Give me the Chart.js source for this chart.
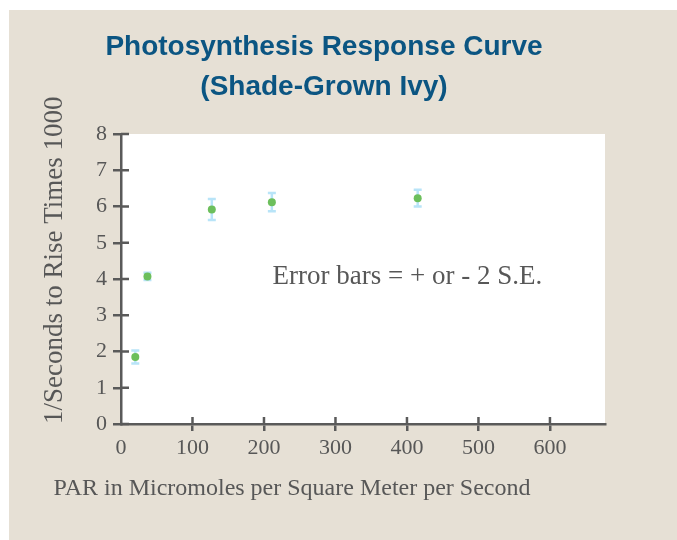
<!DOCTYPE html>
<html>
<head>
<meta charset="utf-8">
<title>Photosynthesis Response Curve (Shade-Grown Ivy)</title>
<script src="https://cdn.jsdelivr.net/npm/chart.js@4/dist/chart.umd.min.js"></script>
<style>
  html, body { margin: 0; padding: 0; background: #ffffff; }
  #wrap { position: absolute; left: 9px; top: 10px; width: 668px; height: 530px; }
  canvas { display: block; }
</style>
</head>
<body>
<div id="wrap"><canvas id="chart" width="668" height="530"></canvas></div>
<script>
// Light level (PAR, micromoles per square metre per second)
const parValues = [20, 37, 127, 211, 415];
// Mean rate: 1 / seconds to rise, times 1000
const riseRate = [1.85, 4.07, 5.92, 6.12, 6.23];
// Half-length of each error bar (2 standard errors)
const twoSE = [0.18, 0.10, 0.29, 0.25, 0.23];

// Axis ticks
const xTickValues = [0, 100, 200, 300, 400, 500, 600];
const yTickValues = [0, 1, 2, 3, 4, 5, 6, 7, 8];

// Text
const titleLines = ['Photosynthesis Response Curve', '(Shade-Grown Ivy)'];
const xAxisTitle = 'PAR in Micromoles per Square Meter per Second';
const yAxisTitle = '1/Seconds to Rise Times 1000';
const noteText = 'Error bars = + or - 2 S.E.';

// Colours and fonts
const panelBeige = '#e6e0d5';
const plotWhite = '#ffffff';
const titleBlue = '#0b5582';
const textGray = '#575757';
const axisGray = '#5a5a5a';
const pointGreen = '#6cbf5c';
const errorBlue = '#b8e4f8';
const serif = "'Liberation Serif', 'Times New Roman', serif";
const sans = "'Liberation Sans', Arial, sans-serif";

// Panel background and white plotting area
const backdrop = {
  id: 'backdrop',
  beforeDraw(chart) {
    const { ctx, chartArea: a } = chart;
    ctx.save();
    ctx.fillStyle = panelBeige;
    ctx.fillRect(0, 0, chart.width, chart.height);
    ctx.fillStyle = plotWhite;
    ctx.fillRect(a.left, a.top, a.right - a.left, a.bottom - a.top);
    ctx.restore();
  }
};

// Vertical error bars with short caps, drawn beneath the points
const errorBars = {
  id: 'errorBars',
  beforeDatasetsDraw(chart) {
    const { ctx, scales: { x, y } } = chart;
    ctx.save();
    ctx.strokeStyle = errorBlue;
    ctx.lineWidth = 2.5;
    parValues.forEach((v, i) => {
      const px = x.getPixelForValue(v);
      const top = y.getPixelForValue(riseRate[i] + twoSE[i]);
      const bot = y.getPixelForValue(riseRate[i] - twoSE[i]);
      ctx.beginPath();
      ctx.moveTo(px, top); ctx.lineTo(px, bot);
      ctx.moveTo(px - 4, top); ctx.lineTo(px + 4, top);
      ctx.moveTo(px - 4, bot); ctx.lineTo(px + 4, bot);
      ctx.stroke();
    });
    ctx.restore();
  }
};

// Tick marks cross the axes: add the inner half of each tick
const innerTicks = {
  id: 'innerTicks',
  afterDraw(chart) {
    const { ctx, chartArea: a, scales: { x, y } } = chart;
    ctx.save();
    ctx.strokeStyle = axisGray;
    ctx.lineWidth = 2.5;
    ctx.beginPath();
    y.ticks.forEach(t => {
      const py = y.getPixelForValue(t.value);
      ctx.moveTo(a.left, py); ctx.lineTo(a.left + 8, py);
    });
    x.ticks.forEach(t => {
      if (t.value === 0) return;
      const px = x.getPixelForValue(t.value);
      ctx.moveTo(px, a.bottom); ctx.lineTo(px, a.bottom - 7);
    });
    ctx.stroke();
    ctx.restore();
  }
};

// Chart title, x-axis title and the error-bar note
const noteAt = { x: 212, y: 3.86 };
const textLayer = {
  id: 'textLayer',
  afterDraw(chart) {
    const { ctx, scales: { x, y } } = chart;
    ctx.save();
    ctx.textBaseline = 'alphabetic';

    ctx.fillStyle = titleBlue;
    ctx.font = `bold 28px ${sans}`;
    ctx.textAlign = 'center';
    ctx.fillText(titleLines[0], 315, 45);
    ctx.fillText(titleLines[1], 315, 85);

    ctx.fillStyle = textGray;
    ctx.font = `24px ${serif}`;
    ctx.fillText(xAxisTitle, 283, 485);

    ctx.font = `27px ${serif}`;
    ctx.textAlign = 'left';
    ctx.fillText(noteText, x.getPixelForValue(noteAt.x), y.getPixelForValue(noteAt.y));
    ctx.restore();
  }
};

new Chart(document.getElementById('chart'), {
  type: 'scatter',
  data: {
    datasets: [{
      data: parValues.map((v, i) => ({ x: v, y: riseRate[i] })),
      backgroundColor: pointGreen,
      borderWidth: 0,
      pointRadius: 4,
      pointHoverRadius: 4
    }]
  },
  options: {
    responsive: false,
    animation: false,
    layout: { padding: { top: 124, right: 72, bottom: 0, left: 0 } },
    plugins: {
      legend: { display: false },
      tooltip: { enabled: false },
      title: { display: false }
    },
    scales: {
      x: {
        type: 'linear',
        min: 0,
        max: 677,
        afterBuildTicks: s => { s.ticks = xTickValues.map(v => ({ value: v })); },
        afterFit: s => { s.height = 116; },
        grid: {
          drawOnChartArea: false,
          drawTicks: true,
          tickLength: 7,
          lineWidth: 2.5,
          color: c => (c.tick && c.tick.value === 0 ? 'rgba(0,0,0,0)' : axisGray)
        },
        border: { color: axisGray, width: 2.5 },
        ticks: {
          color: textGray,
          font: { family: serif, size: 22 },
          padding: 4,
          maxRotation: 0
        }
      },
      y: {
        type: 'linear',
        min: 0,
        max: 8,
        afterBuildTicks: s => { s.ticks = yTickValues.map(v => ({ value: v })); },
        afterFit: s => { s.width = 112; },
        grid: {
          drawOnChartArea: false,
          drawTicks: true,
          tickLength: 8,
          lineWidth: 2.5,
          color: axisGray
        },
        border: { color: axisGray, width: 2.5 },
        ticks: {
          color: textGray,
          font: { family: serif, size: 22 },
          padding: 6
        },
        title: {
          display: true,
          text: yAxisTitle,
          align: 'start',
          color: textGray,
          font: { family: serif, size: 27, lineHeight: 1.2 },
          padding: { top: 30, bottom: 0 }
        }
      }
    }
  },
  plugins: [backdrop, errorBars, innerTicks, textLayer]
});
</script>
</body>
</html>
